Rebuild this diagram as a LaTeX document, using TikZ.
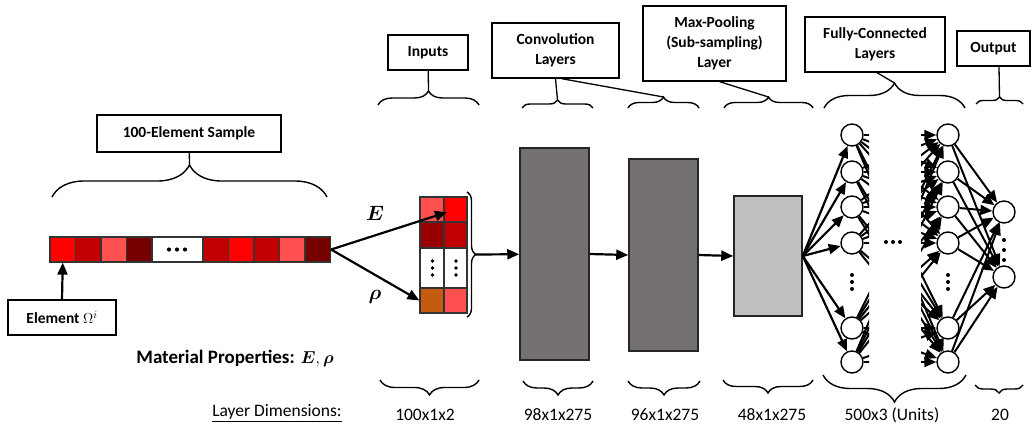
\documentclass[tikz,border=0pt]{standalone}
\usepackage{fontspec}
\setmainfont{Carlito}
\usepackage{bm}
\usetikzlibrary{arrows.meta,decorations.pathreplacing,positioning}

\definecolor{redA}{HTML}{FF0000}
\definecolor{redB}{HTML}{C00000}
\definecolor{redC}{HTML}{FF5050}
\definecolor{redD}{HTML}{760000}
\definecolor{redE}{HTML}{960000}
\definecolor{rust}{HTML}{C55A11}
\definecolor{convgray}{HTML}{767171}
\definecolor{poolgray}{HTML}{BFBFBF}

\begin{document}
\begin{tikzpicture}[
  x=1pt, y=-1pt,
  lbl/.style={draw=black, line width=1.3pt, fill=white, align=center, inner sep=0pt, font=\fontsize{15.5}{20}\selectfont\bfseries},
  cell/.style={draw=black!80, line width=1.2pt, minimum width=25.5, minimum height=25, inner sep=0pt},
  block/.style={draw=black!85, line width=1.5pt, inner sep=0pt},
  neuron/.style={circle, draw=black, fill=white, line width=1.4pt, minimum size=22, inner sep=0pt},
  arr/.style={line width=2.2pt, -{Triangle[length=12pt,width=10pt]}},
  brc/.style={decorate, decoration={brace, amplitude=#1}, line width=1.4pt},
  dim/.style={font=\fontsize{17.5}{20}\selectfont}
]
  \useasboundingbox (0,0) rectangle (1036,428);

  % Muestra de 100 elementos
  \foreach \c [count=\i] in {redA,redB,redC,redD}
    \node[cell, fill=\c] (s\i) at ({50+25.5*(\i-0.5)}, 249.5) {};
  \node[cell, fill=white, minimum width=51] (s5) at (177.5, 249.5) {};
  \foreach \c [count=\i from 6] in {redB,redA,redB,redC,redD}
    \node[cell, fill=\c] (s\i) at ({203+25.5*(\i-5.5)}, 249.5) {};
  \foreach \x in {169,177,185}
    \fill (\x, 249.5) circle (2.1);

  % Entradas (100x1x2)
  \foreach \y/\h/\ca/\cb [count=\r] in {209.5/25/redC/redA, 235/26/redE/redB, 268/40/white/white, 300.5/25/rust/redC} {
    \node[cell, minimum width=24, minimum height=\h, fill=\ca] (m\r1) at (432, \y) {};
    \node[cell, minimum width=23, minimum height=\h, fill=\cb] (m\r2) at (455.5, \y) {};
  }
  \foreach \y in {261,268,275} {
    \fill (432.5, \y) circle (1.9);
    \fill (456, \y) circle (1.9);
  }

  % Capas de convolucion y pooling
  \node[block, fill=convgray, minimum width=69, minimum height=212] (conv1) at (554.5, 254) {};
  \node[block, fill=convgray, minimum width=69, minimum height=192] (conv2) at (663.5, 255) {};
  \node[block, fill=poolgray, minimum width=68, minimum height=120] (pool) at (768, 256) {};

  % Capas totalmente conectadas
  \foreach \y [count=\k] in {135,172,207,243,328,362} {
    \node[neuron] (a\k) at (852, \y) {};
    \node[neuron] (b\k) at (948, \y) {};
  }
  \node[neuron] (o1) at (1004, 212) {};
  \node[neuron] (o2) at (1004, 277) {};
  \foreach \y in {275,282,289} {
    \fill (852, \y) circle (2);
    \fill (948, \y) circle (2);
  }
  \foreach \y in {240,250,260}
    \fill (1004, \y) circle (2);
  \foreach \x in {886,893,900}
    \fill (\x, 242) circle (2);

  % Etiquetas en recuadros
  \node[lbl, minimum width=184, minimum height=37] (sample) at (189, 133.5) {100-Element Sample};
  \node[lbl, minimum width=108, minimum height=35] (elem) at (62, 317.5) {Element $\Omega^{i}$};
  \node[lbl, minimum width=80, minimum height=35] (inputs) at (428, 52.5) {Inputs};
  \node[lbl, minimum width=127, minimum height=55] (convlbl) at (555.5, 50.5) {Convolution\\Layers};
  \node[lbl, minimum width=143, minimum height=75] (poollbl) at (714.5, 43.5) {Max-Pooling\\(Sub-sampling)\\Layer};
  \node[lbl, minimum width=140, minimum height=55] (fclbl) at (875, 44.5) {Fully-Connected\\Layers};
  \node[lbl, minimum width=73, minimum height=35] (outlbl) at (993.5, 48.5) {Output};

  % Llaves superiores y puntas
  \draw[brc=32pt] (52,197) -- (327,197);
  \draw[brc=14pt] (378,105) -- (479,105);
  \draw[brc=8pt] (522,108) -- (593,108);
  \draw[brc=11pt] (628,108) -- (699,108);
  \draw[brc=11pt] (724,108) -- (813,108);
  \draw[brc=25pt] (824,108) -- (965,108);
  \draw[brc=7pt] (976,104) -- (1023,104);
  \coordinate (tS) at (189.5,165);
  \coordinate (tIn) at (428.5,91);
  \coordinate (tC1) at (557.5,100);
  \coordinate (tC2) at (663.5,97);
  \coordinate (tP) at (768.5,97);
  \coordinate (tF) at (894.5,83);
  \coordinate (tO) at (999.5,97);

  % Lineas de recuadro a llave
  \draw[line width=1.3pt] (sample) -- (tS);
  \draw[line width=1.3pt] (inputs) -- (tIn);
  \draw[line width=1.3pt] (convlbl.south) -- (tC1);
  \draw[line width=1.3pt] ([xshift=6pt]convlbl.south) -- (tC2);
  \draw[line width=1.3pt] ([xshift=5pt]poollbl.south) -- (tP);
  \draw[line width=1.3pt] ([xshift=2pt]fclbl.south) -- (tF);
  \draw[line width=1.3pt] ([xshift=5.5pt]outlbl.south) -- (tO);

  % Llave junto a las entradas
  \draw[brc=9pt] (467,192) -- (467,317);
  \coordinate (tM) at (476,254.5);

  % Llaves inferiores
  \draw[brc=15pt] (479,380) -- (380,380);
  \draw[brc=14pt] (593,381) -- (523,381);
  \draw[brc=14pt] (700,381) -- (628,381);
  \draw[brc=13pt] (813,380) -- (723,380);
  \draw[brc=27pt] (966,375) -- (823,375);
  \draw[brc=8pt] (1023,385) -- (975,385);

  % Flechas principales
  \draw[arr] (elem.north) -- (s1.south);
  \draw[arr, shorten >=9pt] (s10.east) -- (m12.center);
  \draw[arr] (s10.east) -- (m41.west);
  \draw[arr] (tM) -- (conv1);
  \draw[arr] (conv1.east) -- (conv2.west);
  \draw[arr] (conv2.east) -- (pool.west);
  \foreach \k in {1,...,6}
    \draw[arr] (pool.east) -- (a\k);

  % Conexiones entre neuronas (el centro queda recortado)
  \begin{scope}
    \clip (0,0) rectangle (869,428) (921,0) rectangle (1036,428);
    \foreach \i in {1,...,6}
      \foreach \j in {1,...,6}
        \draw[arr, line width=2pt] (a\i) -- (b\j);
  \end{scope}
  \foreach \i in {1,...,6}
    \foreach \j in {1,2}
      \draw[arr, line width=2pt] (b\i) -- (o\j);

  % Textos sueltos
  \node[font=\fontsize{20}{22}\selectfont] (labE) at (375,213) {$\bm{E}$};
  \node[font=\fontsize{20}{22}\selectfont] (labR) at (375,297) {$\bm{\rho}$};
  \node[font=\fontsize{19}{22}\selectfont\bfseries] (matprop) at (235,358) {Material Properties: $\bm{E},\bm{\rho}$};
  \node[dim] (laydim) at (277,413) {\underline{Layer Dimensions:}};
  \node[dim] (d1) at (425,415) {100x1x2};
  \node[dim] (d2) at (558,415) {98x1x275};
  \node[dim] (d3) at (665,415) {96x1x275};
  \node[dim] (d4) at (772,415) {48x1x275};
  \node[dim] (d5) at (892,415) {500x3 (Units)};
  \node[dim] (d6) at (1000,415) {20};

\end{tikzpicture}
\end{document}
